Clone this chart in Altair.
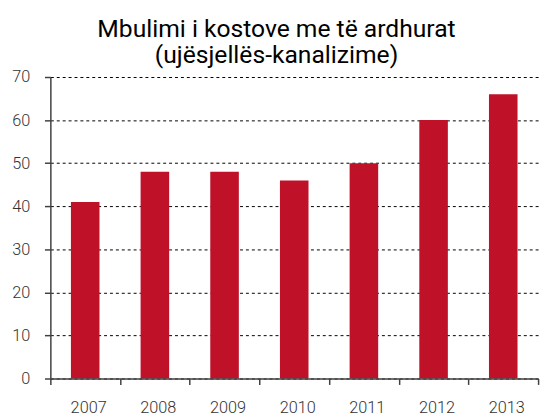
import altair as alt
import pandas as pd

years = ["2007", "2008", "2009", "2010", "2011", "2012", "2013"]
values = [41, 48, 48, 46, 50, 60, 66]
y_ticks = [0, 10, 20, 30, 40, 50, 60, 70]
title_lines = ["Mbulimi i kostove me të ardhurat", "(ujësjellës-kanalizime)"]

df = pd.DataFrame({"year": years, "value": values})

chart = alt.Chart(df).mark_bar(color="#BF1229", width=alt.RelativeBandSize(0.41)).encode(
    x=alt.X("year:N", sort=years, title=None,
            scale=alt.Scale(paddingInner=0, paddingOuter=0),
            axis=alt.Axis(labelAngle=0, tickBand="extent", ticks=True, tickSize=6,
                          tickColor="#404040", tickWidth=1.5,
                          domainColor="#404040", domainWidth=1.5,
                          labelPadding=16, labelOffset=3, labelFontSize=16.5,
                          labelFont="Roboto", labelFontWeight=300, labelColor="#333333",
                          grid=False, zindex=1)),
    y=alt.Y("value:Q", title=None,
            scale=alt.Scale(domain=[0, 70], nice=False),
            axis=alt.Axis(values=y_ticks, tickSize=6, tickColor="#404040", tickWidth=1.5,
                          domainColor="#404040", domainWidth=1.5,
                          labelPadding=15, labelFontSize=16.5, labelFont="Roboto",
                          labelFontWeight=300, labelColor="#333333",
                          grid=True, gridColor="#000000", gridDash=[3, 3], gridWidth=1,
                          gridOpacity=1, zindex=0)),
).properties(
    width=495,
    height=306,
    title=alt.TitleParams(text=title_lines, font="Roboto", fontSize=25, fontWeight="normal",
                          color="#000000", anchor="middle", dx=-18, lineHeight=27,
                          offset=1),
    autosize=alt.AutoSizeParams(type="none"),
    padding={"left": 43, "top": 67, "right": 6, "bottom": 35},
).configure_view(stroke=None)

chart.save("out.html", embed_options={"renderer": "svg", "actions": False})
